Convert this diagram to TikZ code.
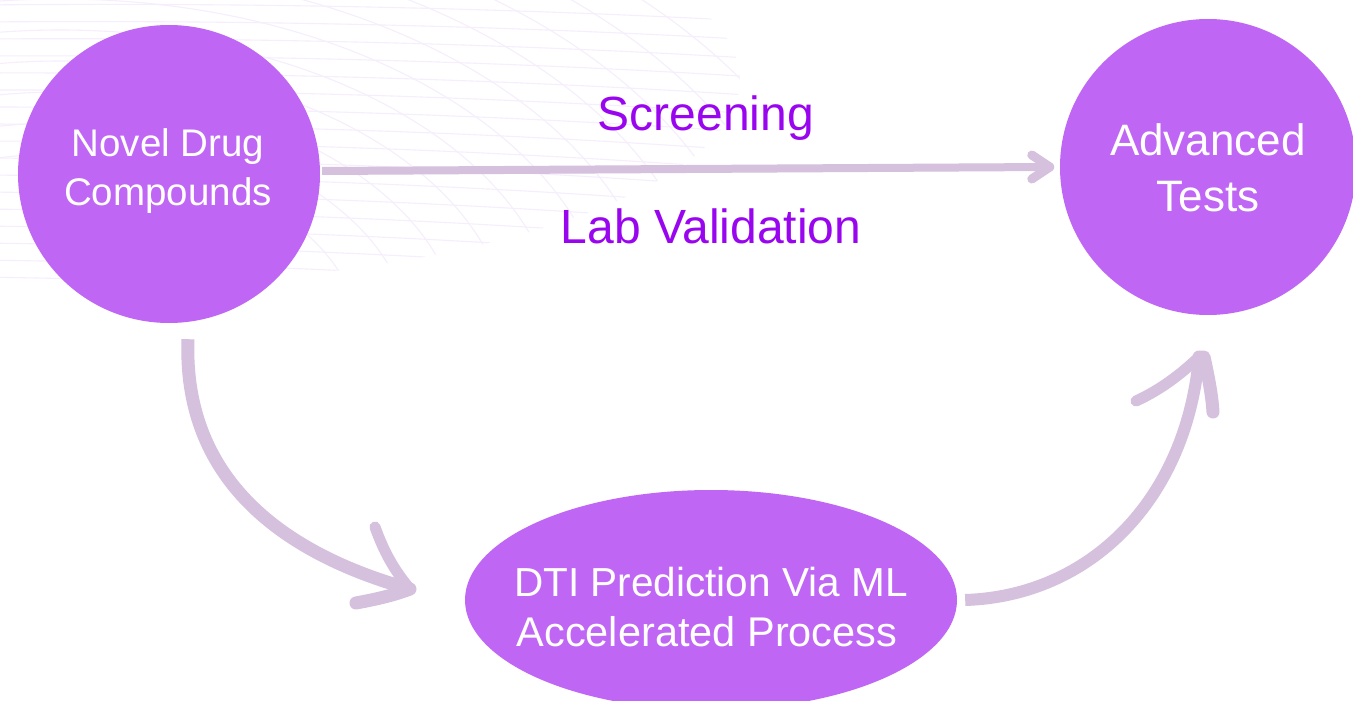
\documentclass[tikz,border=0pt]{standalone}
\usepackage{fontspec}
\setmainfont{Liberation Sans}
\usetikzlibrary{calc,shapes.geometric}
\definecolor{blob}{HTML}{BF66F5}
\definecolor{arr}{HTML}{D5C0DD}
\definecolor{ttl}{HTML}{9A05F0}
\definecolor{mesh}{HTML}{F6EEFC}
\tikzset{
  blobshape/.style={ellipse, fill=blob, inner sep=0pt},
  wtext/.style={text=white, anchor=base, inner sep=0pt},
  shaft/.style={draw=arr, line cap=round, line join=round},
  lbl/.style={text=ttl, anchor=base, inner sep=0pt, font=\fontsize{48}{56}\selectfont},
}
\begin{document}
\begin{tikzpicture}[x=1pt,y=-1pt]
\useasboundingbox (0,0) rectangle (1353,701);
\fill[white] (0,0) rectangle (1353,701);
% faint background mesh
\begin{scope}
\clip (100,80) ellipse [x radius=640pt, y radius=205pt];
\foreach \k in {0,...,17}{
  \draw[mesh, line width=1.1pt] (-20,{5+17*\k}) .. controls (300,{2+17.5*\k}) and (600,{10+18*\k}) .. (900,{30+19*\k});
}
\foreach \k in {300,350,...,950}{
  \pgfmathsetmacro{\ry}{0.62*\k}
  \draw[mesh, line width=1.1pt] (60,340) ellipse [x radius=\k pt, y radius=\ry pt];
}
\end{scope}
% nodes
\node[blobshape, minimum width=302pt, minimum height=298pt] (novel) at (169,174) {};
\node[blobshape, minimum width=296pt, minimum height=296pt] (adv) at (1208,167) {};
\node[blobshape, minimum width=492pt, minimum height=220pt] (dti) at (711,600) {};
\node[wtext, font=\fontsize{38.5}{46}\selectfont] (n1) at (168,157) {Novel Drug};
\node[wtext, font=\fontsize{38.5}{46}\selectfont] (n2) at (168,205) {Compounds};
\node[wtext, font=\fontsize{44}{52}\selectfont] (a1l) at (1208,155) {Advanced};
\node[wtext, font=\fontsize{44}{52}\selectfont] (a2l) at (1208,211) {Tests};
\node[wtext, font=\fontsize{40.5}{48}\selectfont] (d1) at (711,596) {DTI Prediction Via ML};
\node[wtext, font=\fontsize{41.5}{48}\selectfont] (d2) at (707,646) {Accelerated Process};
\node[lbl] (scr) at (706,131) {Screening};
\node[lbl] (lab) at (711,243) {Lab Validation};
% horizontal arrow
\coordinate (h1) at ($(novel.east)+(2,-3)$);
\coordinate (h2) at ($(adv.west)+(-10,0)$);
\draw[shaft, line width=8pt, line cap=butt] (h1) -- (h2);
\draw[shaft, line width=9pt] ($(h2)+(-18,-12)$) -- (h2) -- ($(h2)+(-18,12)$);
% curved arrow 1
\coordinate (a1) at ($(novel.south)+(19,16)$);
\coordinate (a1t) at (410,589);
\draw[shaft, line width=13pt, line cap=butt] (a1) .. controls (183,470) and (270,550) .. (a1t);
\draw[shaft, line width=11pt] (375,527) .. controls (384,552) and (394,570) .. (a1t);
\draw[shaft, line width=13pt] (a1t) .. controls (392,596) and (372,600) .. (356,603);
% curved arrow 2
\coordinate (b1) at ($(dti.east)+(8,0)$);
\coordinate (b1t) at (1199,357);
\draw[shaft, line width=12pt, line cap=butt] (b1) .. controls (1090,596) and (1186,500) .. (b1t);
\draw[shaft, line width=11pt] (1136,401) .. controls (1160,390) and (1180,375) .. (b1t);
\draw[shaft, line width=13pt] (b1t) -- (1204,357) .. controls (1208,375) and (1212,395) .. (1213,412);
\end{tikzpicture}
\end{document}
